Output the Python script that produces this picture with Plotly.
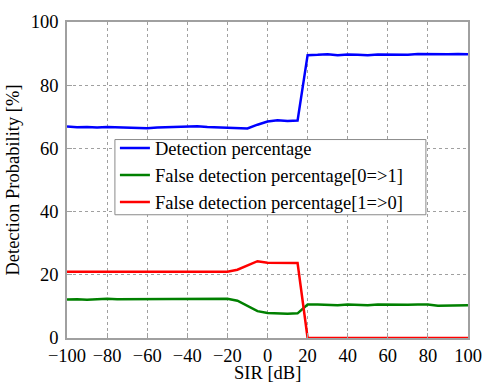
import plotly.graph_objects as go

sir_db = list(range(-100, 101, 5))

detection = [66.9, 66.7, 66.8, 66.6, 66.8, 66.7, 66.5, 66.6, 66.4, 66.6,
             66.7, 66.8, 66.9, 67.0, 66.8, 66.7, 66.6, 66.5, 66.3, 67.5,
             68.5, 68.9, 68.7, 68.8, 89.5, 89.6, 89.8, 89.5, 89.7, 89.6,
             89.5, 89.7, 89.6, 89.7, 89.6, 89.9, 89.8, 89.7, 89.8, 89.9, 89.8]

false_0_1 = [12.2, 12.3, 12.1, 12.3, 12.4, 12.3, 12.3, 12.2, 12.4, 12.4,
             12.4, 12.3, 12.3, 12.2, 12.3, 12.3, 12.4, 11.8, 10.2, 8.5,
             7.9, 7.7, 7.7, 7.8, 10.6, 10.6, 10.5, 10.4, 10.6, 10.5,
             10.4, 10.6, 10.5, 10.6, 10.5, 10.6, 10.6, 10.2, 10.2, 10.4, 10.4]

false_1_0 = [21.0, 21.0, 21.0, 21.0, 21.0, 21.0, 21.0, 21.0, 21.0, 21.0,
             21.0, 20.9, 20.8, 20.8, 21.0, 21.0, 21.0, 21.6, 23.0, 24.3,
             23.8, 23.7, 23.7, 23.7, 0.0, 0.0, 0.0, 0.0, 0.0, 0.0,
             0.0, 0.0, 0.0, 0.0, 0.0, 0.0, 0.0, 0.0, 0.0, 0.0, 0.0]

names = ["Detection percentage",
         "False detection percentage[0=>1]",
         "False detection percentage[1=>0]"]
colors = ["#0000ff", "#008000", "#ff0000"]

x_title = "SIR [dB]"
y_title = "Detection Probability [%]"

fig = go.Figure()
for ys, nm, c in zip([detection, false_0_1, false_1_0], names, colors):
    fig.add_trace(go.Scatter(x=sir_db, y=ys, mode="lines", name=nm,
                             line=dict(color=c, width=2.5)))

font = dict(family="Liberation Serif", size=18.5, color="black")
axis_common = dict(showgrid=True, gridcolor="#a0a0a0", griddash="dot", gridwidth=1,
                   zeroline=False, showline=True, linecolor="#a0a0a0", linewidth=1.5,
                   mirror=True, ticks="inside", ticklen=5, tickcolor="#a0a0a0",
                   tickfont=font)

# legend frame (white box with grey border) drawn as a paper-space shape
fig.add_shape(type="rect", xref="paper", yref="paper",
              x0=0.1195, x1=0.895, y0=0.39, y1=0.628,
              fillcolor="white", line=dict(color="#8a8a8a", width=1), layer="above")

# x-axis title placed as an annotation just below the tick labels
fig.add_annotation(text=x_title, xref="paper", yref="paper", x=0.5, y=-0.11,
                   xanchor="center", yanchor="middle", showarrow=False, font=font)

fig.update_layout(
    width=494, height=385,
    margin=dict(l=66, r=18, t=15, b=47),
    paper_bgcolor="white", plot_bgcolor="white",
    font=font,
    showlegend=True,
    legend=dict(x=0.1195, y=0.66, xanchor="left", yanchor="top",
                bgcolor="rgba(0,0,0,0)", borderwidth=0,
                font=font, tracegroupgap=0),
    xaxis=dict(range=[-100, 100], tickvals=list(range(-100, 101, 20)),
               ticktext=["\u2212100", "\u221280", "\u221260", "\u221240", "\u221220",
                         "0", "20", "40", "60", "80", "100"],
               **axis_common),
    yaxis=dict(range=[0, 100], tickvals=list(range(0, 101, 20)),
               ticklabelstandoff=3,
               title=dict(text=y_title, font=font, standoff=6),
               **axis_common),
)

fig.write_html("out.html", config={"displayModeBar": False},
               post_script="document.body.style.margin='0';")
